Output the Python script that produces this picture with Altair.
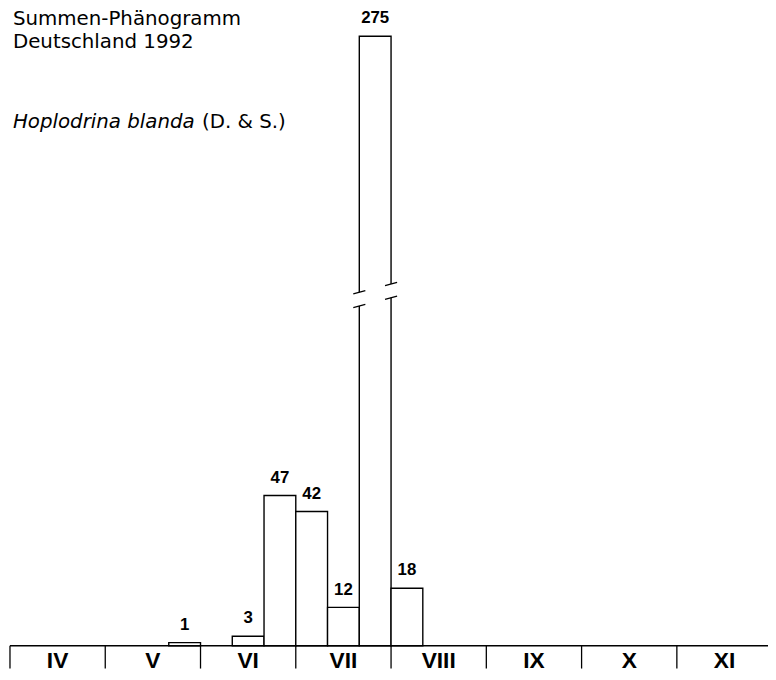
import altair as alt
import pandas as pd

# ---------------- data ----------------
months = ["IV", "V", "VI", "VII", "VIII", "IX", "X", "XI"]
bar_month = ["V", "VI", "VI", "VII", "VII", "VII", "VIII"]
bar_decade = [3, 2, 3, 1, 2, 3, 1]
bar_count = [1, 3, 47, 42, 12, 275, 18]

title_lines = ["Summen-Phänogramm", "Deutschland 1992"]
species = "Hoplodrina blanda"
author = "(D. & S.)"

# ---------------- layout ----------------
W, H = 766, 656
FONT = "DejaVu Sans"
NUMFONT = "Liberation Sans"
CAP = 190.7            # drawn height of a broken (clipped) bar
X_DOMAIN = [0, 23.87]  # decades
Y_DOMAIN = [-7.12, 195.98]
BREAK_LO, BREAK_HI, BREAK_SLOPE, BREAK_HALF = 106.3, 110.6, 2.6, 0.19

xs = alt.Scale(domain=X_DOMAIN, nice=False, zero=False)
ys = alt.Scale(domain=Y_DOMAIN, nice=False, zero=False)

rows = []
for m, dec, c in zip(bar_month, bar_decade, bar_count):
    d = months.index(m) * 3 + dec - 1
    rows.append(dict(x0=d, x1=d + 1, xc=d + 0.5, base=0,
                     top=min(c, CAP), label=str(c), broken=c > CAP))
bars = pd.DataFrame(rows)

gap_rows, slash_rows = [], []
for _, r in bars[bars.broken].iterrows():
    for e in (r.x0, r.x1):
        lo = BREAK_LO + BREAK_SLOPE * (e - r.x0)
        hi = BREAK_HI + BREAK_SLOPE * (e - r.x0)
        gap_rows.append(dict(x=e, y=lo, y2=hi))
        for b in (lo, hi):
            slash_rows.append(dict(x=e - BREAK_HALF, x2=e + BREAK_HALF,
                                   y=b - BREAK_SLOPE * BREAK_HALF,
                                   y2=b + BREAK_SLOPE * BREAK_HALF))
gaps = pd.DataFrame(gap_rows)
slashes = pd.DataFrame(slash_rows)

month_df = pd.DataFrame({"month": months,
                         "start": [i * 3 for i in range(len(months))],
                         "mid": [i * 3 + 1.5 for i in range(len(months))],
                         "base": [0] * len(months)})

# ---------------- marks ----------------
baseline = alt.Chart(pd.DataFrame({"base": [0]})).mark_rule(
    color="black", strokeWidth=1.5).encode(
    y=alt.Y("base:Q", scale=ys, axis=None),
    x=alt.value(0), x2=alt.value(W))

dividers = alt.Chart(month_df).mark_rule(color="black", strokeWidth=1.3).encode(
    x=alt.X("start:Q", scale=xs, axis=None),
    y=alt.Y("base:Q", scale=ys, axis=None),
    y2=alt.value(H))

month_labels = alt.Chart(month_df).mark_text(
    font=NUMFONT, fontSize=23, fontWeight="bold", baseline="alphabetic",
    align="center", color="black").encode(
    x=alt.X("mid:Q", scale=xs, axis=None),
    y=alt.value(655.5),
    text="month:N")

rects = alt.Chart(bars).mark_rect(fill="white", stroke="black",
                                  strokeWidth=1.4).encode(
    x=alt.X("x0:Q", scale=xs, axis=None), x2="x1:Q",
    y=alt.Y("base:Q", scale=ys, axis=None), y2="top:Q")

gap_marks = alt.Chart(gaps).mark_rule(color="white", strokeWidth=4).encode(
    x=alt.X("x:Q", scale=xs, axis=None),
    y=alt.Y("y:Q", scale=ys, axis=None), y2="y2:Q")

slash_marks = alt.Chart(slashes).mark_rule(color="black", strokeWidth=1.3).encode(
    x=alt.X("x:Q", scale=xs, axis=None), x2="x2:Q",
    y=alt.Y("y:Q", scale=ys, axis=None), y2="y2:Q")

labels = alt.Chart(bars).mark_text(
    font=NUMFONT, fontSize=17, fontWeight="bold", baseline="alphabetic",
    align="center", dy=-13, color="black").encode(
    x=alt.X("xc:Q", scale=xs, axis=None),
    y=alt.Y("top:Q", scale=ys, axis=None),
    text="label:N")


def txt(s, x, y, style="normal"):
    return alt.Chart(pd.DataFrame({"t": [s]})).mark_text(
        font=FONT, fontSize=20, fontStyle=style, align="left",
        baseline="alphabetic", color="black").encode(
        x=alt.value(x), y=alt.value(y), text="t:N")


titles = (txt(title_lines[0], 3, 6) + txt(title_lines[1], 3, 29)
          + txt(species, 3, 110, "italic") + txt(author, 194, 110))

chart = alt.layer(baseline, dividers, rects, gap_marks, slash_marks,
                  labels, month_labels, titles).properties(
    width=W, height=H,
    autosize=alt.AutoSizeParams(type="none"),
    padding={"left": 2, "top": 8, "right": 0, "bottom": 0},
).configure_view(stroke=None)

chart.save("out.html", embed_options={"renderer": "svg", "actions": False})
